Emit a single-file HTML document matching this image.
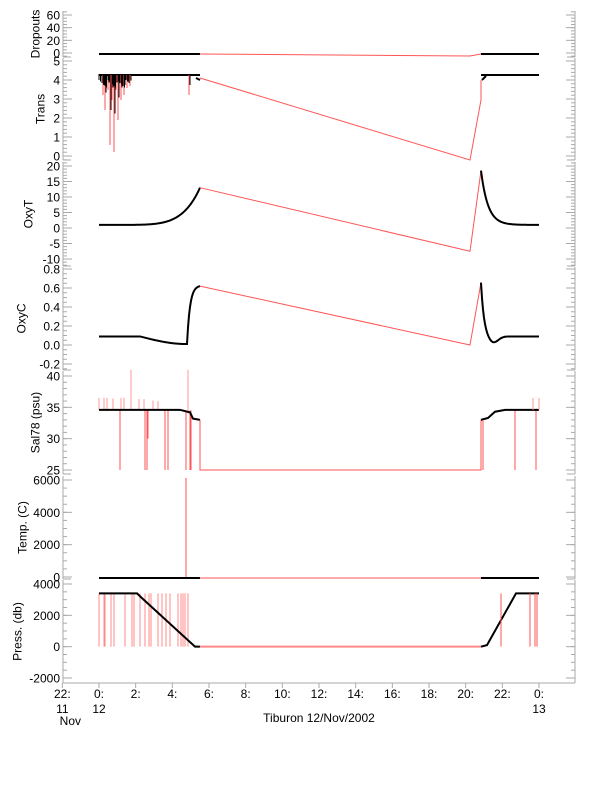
<!DOCTYPE html>
<html><head><style>
body{margin:0;background:#fff;}
svg text{font-family:"Liberation Sans",sans-serif;font-size:12px;fill:#000;}
</style></head><body>
<svg id="s" width="612" height="785" xmlns="http://www.w3.org/2000/svg"></svg>
<script>
var s=document.getElementById('s');var h='';
var XL=63,XR=575;
function X(hr){return 99+hr*440/24;}
var panels=[
 {top:11,bot:57,v0:60,y0:15,v1:0,y1:53,maj:[60,40,20,0],minor:5,vmin:-5,vmax:65,lab:'Dropouts',lx:35},
 {top:58,bot:160,v0:5,y0:61,v1:0,y1:156,maj:[5,4,3,2,1,0],minor:0.2,vmin:-0.2,vmax:5.2,lab:'Trans',lx:40},
 {top:162,bot:266,v0:20,y0:166,v1:-10,y1:259,maj:[20,15,10,5,0,-5,-10],minor:1,vmin:-12,vmax:21,lab:'OxyT',lx:28},
 {top:267,bot:370,v0:0.8,y0:269,v1:-0.2,y1:364,maj:[0.8,0.6,0.4,0.2,0.0,-0.2],minor:0.05,vmin:-0.25,vmax:0.8,lab:'OxyC',fmt:1,lx:21},
 {top:371,bot:474,v0:40,y0:376,v1:25,y1:470,maj:[40,35,30,25],minor:1,vmin:25,vmax:40.5,lab:'Sal78 (psu)',lx:35},
 {top:476,bot:579,v0:6000,y0:480,v1:0,y1:577,maj:[6000,4000,2000,0],minor:500,vmin:0,vmax:6200,lab:'Temp. (C)',lx:22},
 {top:580,bot:683,v0:4000,y0:584,v1:-2000,y1:678,maj:[4000,2000,0,-2000],minor:500,vmin:-2000,vmax:4000,lab:'Press. (db)',lx:17}
];
panels.forEach(function(p){
 var Y=function(v){return p.y0+(v-p.v0)*(p.y1-p.y0)/(p.v1-p.v0);};
 p.Y=Y;
 h+='<line x1="'+XL+'" y1="'+p.top+'" x2="'+XL+'" y2="'+p.bot+'" stroke="#aaa"/>';
 h+='<line x1="'+XR+'" y1="'+p.top+'" x2="'+XR+'" y2="'+p.bot+'" stroke="#aaa"/>';
 h+='<line x1="'+XL+'" y1="'+p.bot+'" x2="'+(XL+8)+'" y2="'+p.bot+'" stroke="#aaa"/>';
 h+='<line x1="'+XR+'" y1="'+p.bot+'" x2="'+(XR-8)+'" y2="'+p.bot+'" stroke="#aaa"/>';
 for(var v=Math.ceil(p.vmin/p.minor)*p.minor;v<=p.vmax+1e-9;v+=p.minor){var y=Y(v);if(y<p.top||y>p.bot)continue;
  h+='<line x1="'+XL+'" y1="'+y+'" x2="'+(XL+4)+'" y2="'+y+'" stroke="#aaa"/><line x1="'+XR+'" y1="'+y+'" x2="'+(XR-4)+'" y2="'+y+'" stroke="#aaa"/>';}
 p.maj.forEach(function(v){var y=Y(v);
  h+='<line x1="'+XL+'" y1="'+y+'" x2="'+(XL+9)+'" y2="'+y+'" stroke="#aaa"/><line x1="'+XR+'" y1="'+y+'" x2="'+(XR-9)+'" y2="'+y+'" stroke="#aaa"/>';
  h+='<text x="60" y="'+(y+4.5)+'" text-anchor="end">'+(p.fmt?v.toFixed(1):v)+'</text>';});
 var cy=(p.top+p.bot)/2;
 h+='<text transform="translate('+(p.lx+4.5)+','+cy+') rotate(-90)" text-anchor="middle">'+p.lab+'</text>';
});
function pl(pts,c,w){h+='<polyline fill="none" stroke="'+c+'" stroke-width="'+(w||1)+'" points="'+pts.map(function(q){return q[0]+','+q[1];}).join(' ')+'"/>';}
function ln(x1,y1,x2,y2,c,w){h+='<line x1="'+x1+'" y1="'+y1+'" x2="'+x2+'" y2="'+y2+'" stroke="'+c+'" stroke-width="'+(w||1)+'"/>';}
var R='#f55',K='#000';
// Dropouts
ln(99,54,200,54,K,2);pl([[200,54],[470,56],[481,54]],R);ln(481,54,539,54,K,2);
// Trans
pl([[200,78],[470,160],[481,100],[481,80]],R);
ln(99,75,200,75,K,2);ln(481,75,539,75,K,2);
var tr=[[103,95],[105,110],[108,90],[110,145],[112,100],[114,152],[116,90],[118,120],[121,100],[124,95],[127,88],[130,86],[189,95]];
tr.forEach(function(q){ln(q[0],75,q[0],q[1],R);ln(q[0]+1,75,q[0]+1,(75+q[1])/2,K);});
for(var x=99;x<130;x+=1.5){ln(x,74,x,80+((x*37)%9),K);}
ln(196,78,200,80,K,2);ln(482,80,486,76,K,2);
// OxyT
var Y=panels[2].Y;var pts=[];
for(var x=99;x<=200;x+=1){var t=(x-99)/101;var v=1+12*Math.pow(t,6);pts.push([x,Y(v)]);}
pl(pts,K,2);pl([[200,Y(13)],[470,Y(-7.5)],[481,Y(18.5)]],R);
pts=[];for(var x=481;x<=539;x++){var v=1+17.5*Math.exp(-(x-481)/7);pts.push([x,Y(v)]);}pl(pts,K,2);
// OxyC
Y=panels[3].Y;pts=[];
for(var x=99;x<=200;x++){var v=0.09;if(x>140){v=0.09-0.08*Math.sin(Math.min(1,(x-140)/47)*Math.PI/2);}if(x>187){v=0.01+0.61*(1-Math.exp(-(x-187)/3))/(1-Math.exp(-13/3));}pts.push([x,Y(v)]);}
pl(pts,K,2);pl([[200,Y(0.62)],[470,Y(0)],[481,Y(0.66)]],R);
pts=[];for(var x=481;x<=539;x++){var d=x-481;var v=0.09+0.57*Math.exp(-d/3)-0.07*Math.exp(-Math.pow((d-12)/7,2));pts.push([x,Y(v)]);}pl(pts,K,2);
// Sal
Y=panels[4].Y;
[[99,36.5],[104,36.5],[107,36.5],[113,36.4],[121,36.5],[124,36.5],[131,36.5],[139,36.3],[144,36.3],[153,36.1],[158,36]].forEach(function(q){ln(q[0],Y(34.6),q[0],Y(q[1]),'#f99');});
[[120,25],[145,25],[147,25],[148,30],[165,25],[168,25],[186,25],[190,25],[191,25],[515,25],[536,25]].forEach(function(q){ln(q[0],Y(34.5),q[0],Y(q[1]),R);});
ln(131,Y(34.6),131,Y(41),'#f99');ln(188,Y(34),188,Y(41),'#f99');
ln(99,Y(34.6),180,Y(34.6),K,2);pl([[180,Y(34.6)],[190,Y(34.2)],[193,Y(33.2)],[200,Y(33)]],K,2);
pl([[200,Y(33)],[200,Y(25)],[481,Y(25)],[481,Y(33)]],R);
pl([[481,Y(33)],[488,Y(33.3)],[495,Y(34.3)],[505,Y(34.6)],[539,Y(34.6)]],K,2);
ln(483,Y(33),483,Y(25),R);ln(533,Y(34.6),533,Y(36.5),'#f99');ln(539,Y(34.6),539,Y(36.5),'#f99');
// Temp
Y=panels[5].Y;ln(99,Y(0)+1,200,Y(0)+1,K,2);ln(200,Y(0)+1,481,Y(0)+1,R);ln(481,Y(0)+1,539,Y(0)+1,K,2);ln(186,478,186,Y(0),R);
// Press
Y=panels[6].Y;
[99,104,105,111,114,125,132,134,140,145,149,151,158,162,166,170,178,181,183,185,188].forEach(function(x){ln(x,Y(3400),x,Y(0),'#f88');});
pl([[99,Y(3400)],[137,Y(3400)],[142,Y(3100)],[195,Y(0)],[200,Y(0)]],K,2);
ln(200,Y(0),481,Y(0),'#f88',2);
pl([[481,Y(0)],[487,Y(100)],[516,Y(3400)],[539,Y(3400)]],K,2);
[501,530,535,537].forEach(function(x){ln(x,Y(3400),x,Y(0),R);});
// x axis
ln(XL,683,XR,683,'#aaa');
for(var k=-1;k<=12;k++){var x=X(2*k);if(x<XL-1)x=XL;ln(x,683,x,688,'#aaa');
 var hr=((2*k)%24+24)%24;h+='<text x="'+X(2*k)+'" y="698" text-anchor="middle">'+hr+':</text>';}
h+='<text x="'+X(-2)+'" y="713" text-anchor="middle">11</text><text x="'+X(-2)+'" y="725" text-anchor="middle" dx="8">Nov</text>';
h+='<text x="'+X(0)+'" y="713" text-anchor="middle">12</text><text x="'+X(24)+'" y="713" text-anchor="middle">13</text>';
h+='<text x="319" y="722" text-anchor="middle">Tiburon 12/Nov/2002</text>';
s.innerHTML=h;
</script>
</body></html>
